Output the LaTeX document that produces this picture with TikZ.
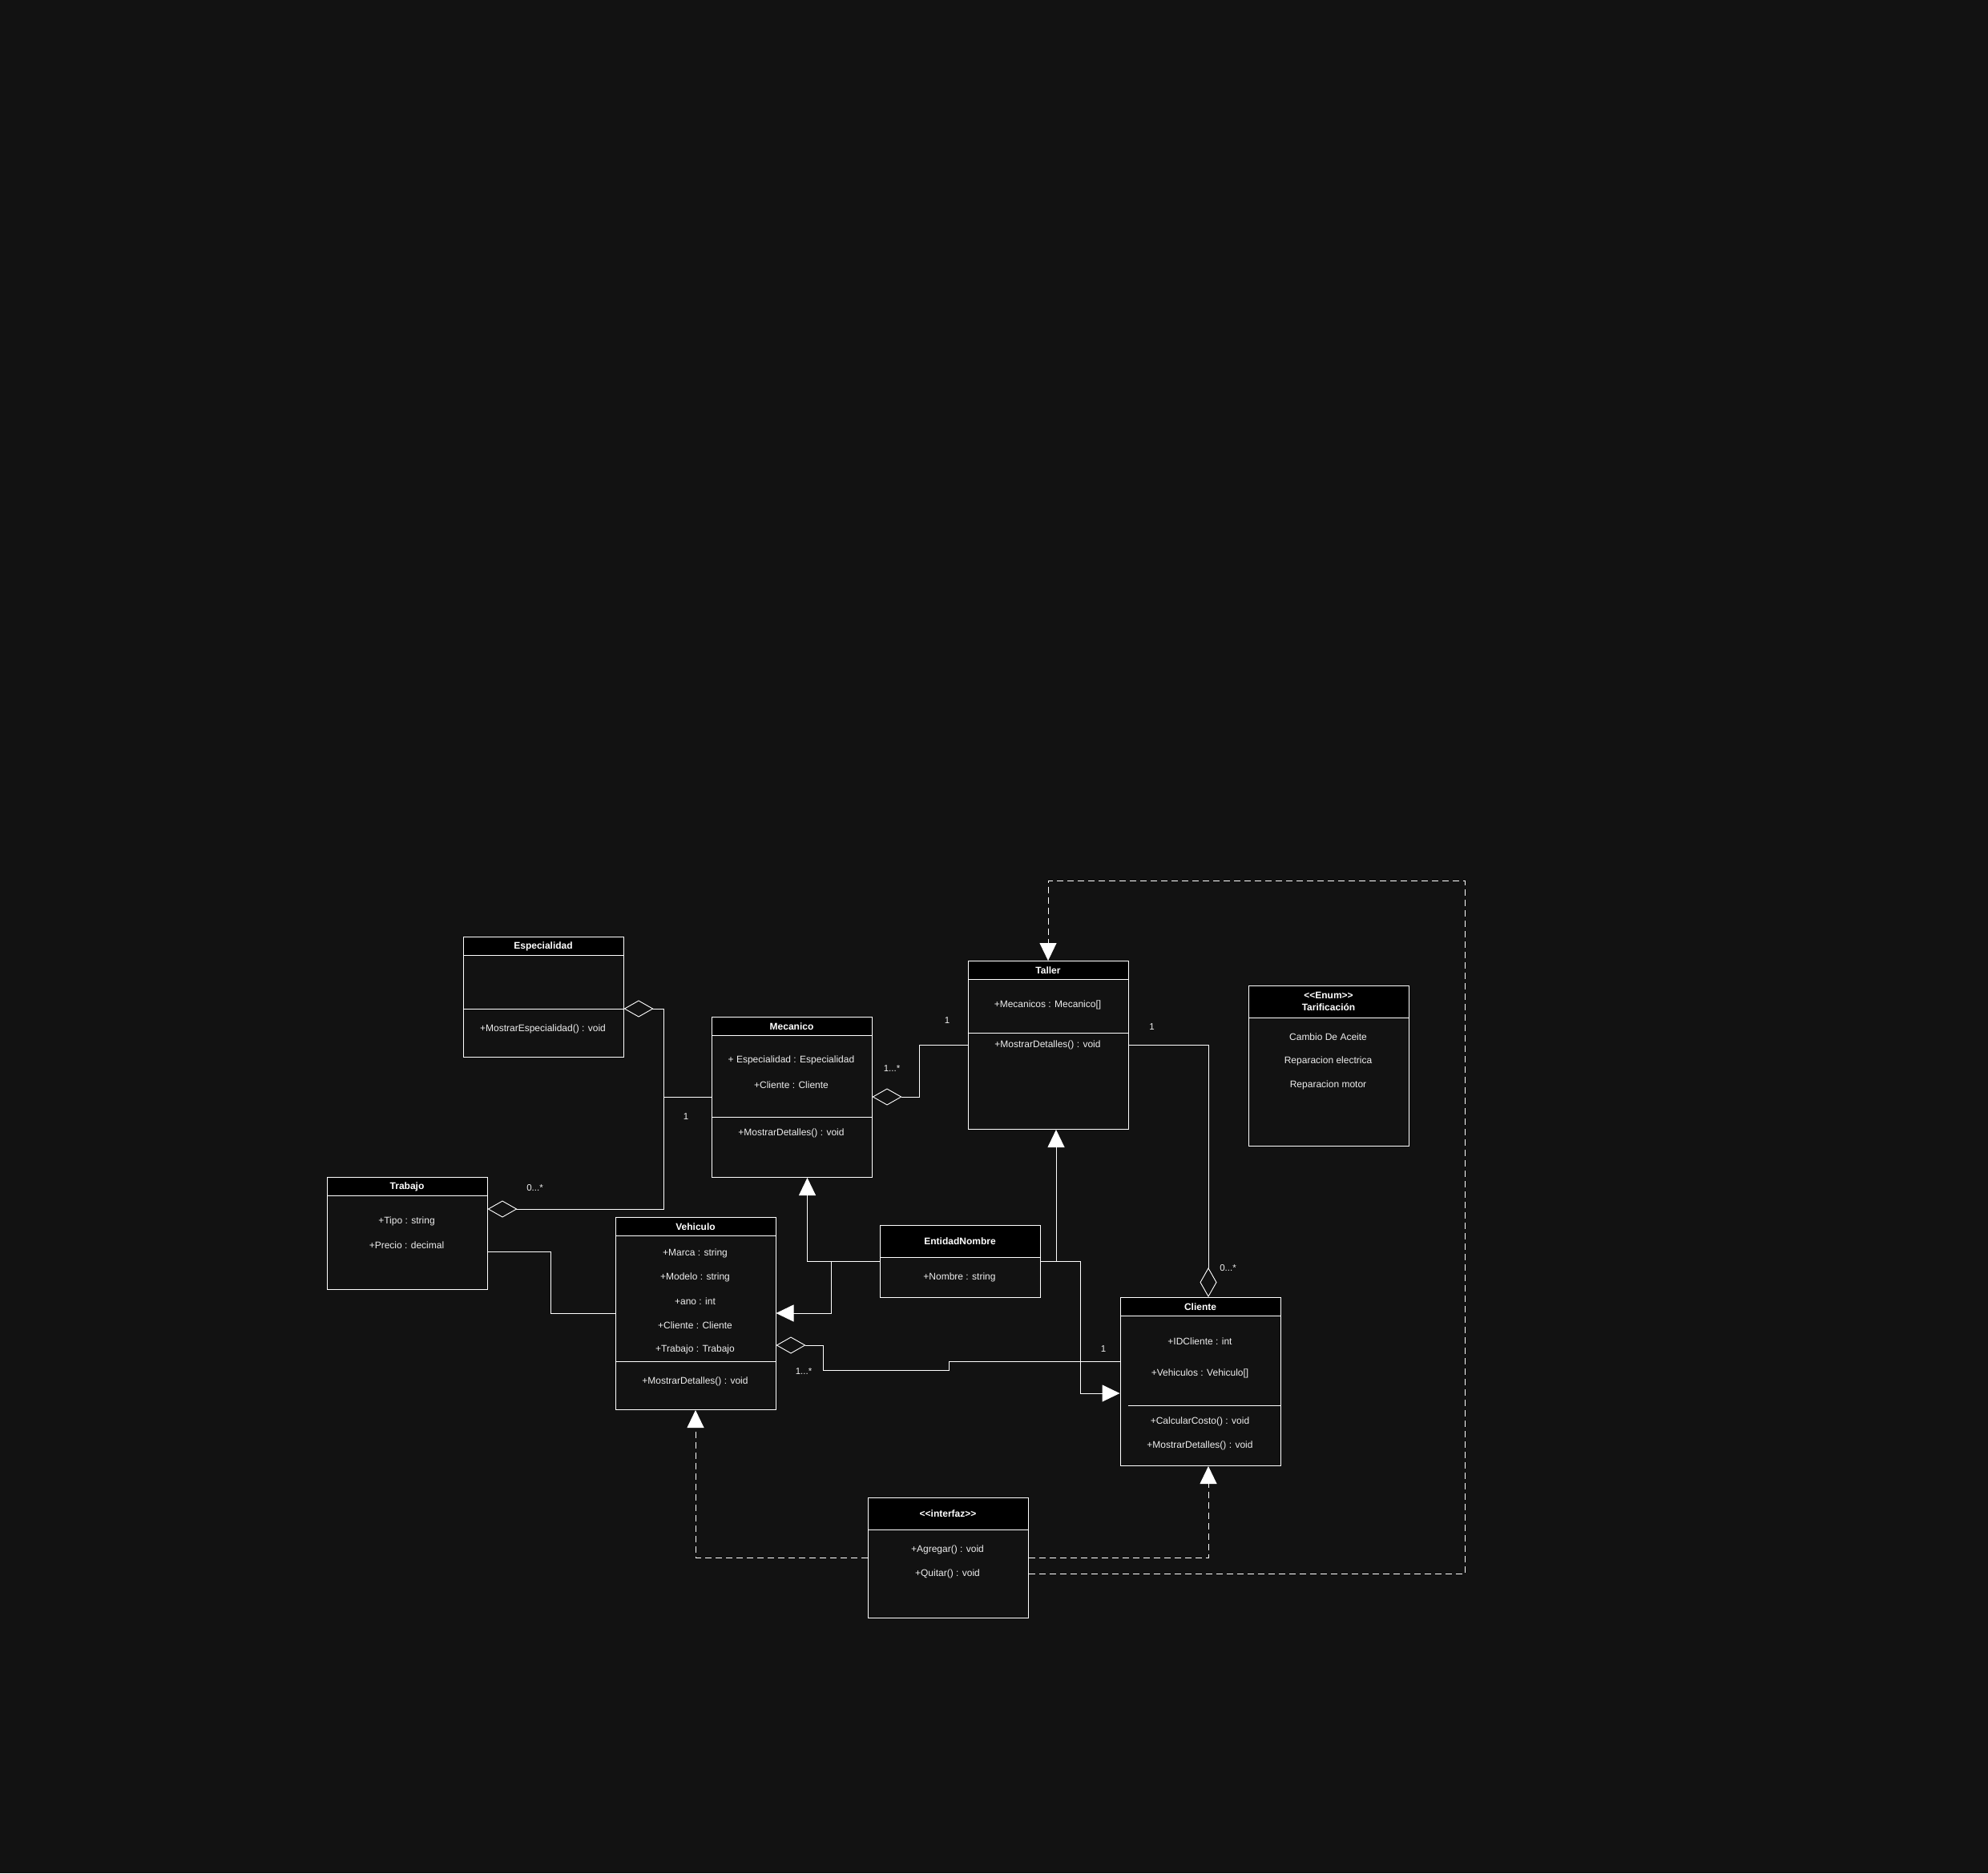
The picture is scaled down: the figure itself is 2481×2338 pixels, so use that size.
\documentclass[tikz,border=0pt]{standalone}
\usepackage{fontspec}
\setmainfont{Liberation Sans}[Ligatures=TeXOff]
\usetikzlibrary{arrows.meta}
\definecolor{bgcol}{HTML}{121212}
\definecolor{txtcol}{HTML}{EEEEEE}

\begin{document}
\begin{tikzpicture}[x=1pt, y=-1pt, white, line width=1pt,
    box/.style = {draw=white, anchor=north west, minimum width=200pt, inner sep=0pt},
    head/.style = {draw=white, fill=black, anchor=north, minimum width=200pt, inner sep=0pt, align=center, font=\fontsize{12}{15}\selectfont\bfseries},
    txt/.style = {text=txtcol, inner sep=0pt, font=\fontsize{12}{14}\selectfont},
    lbl/.style = {text=txtcol, inner sep=0pt, font=\fontsize{11.5}{13}\selectfont},
    inh/.style = {-{Triangle[length=22pt, width=21pt]}},
    real/.style = {inh, dash pattern=on 8pt off 5pt},
    aggr/.style = {{Diamond[length=37pt, width=21pt, fill=bgcol, line width=0.9pt]}-},
    aggrend/.style = {-{Diamond[length=37pt, width=21pt, fill=bgcol, line width=0.9pt]}}]
    \useasboundingbox (0,0) rectangle (2481,2338);
    \fill[bgcol] (0,0) rectangle (2481,2338);

    \node[box, minimum height=150pt] (esp) at (577.5,1169) {};
    \node[head, minimum height=23pt] (espHead) at (esp.north) {Especialidad};
    \node[txt] (espM1) at (677.5,1284) {+MostrarEspecialidad() : void};
    \draw (esp.west |- 0,1259) -- (esp.east |- 0,1259);

    \node[box, minimum height=200pt] (mec) at (887.5,1269) {};
    \node[head, minimum height=23pt] (mecHead) at (mec.north) {Mecanico};
    \node[txt] (mecA1) at (987.5,1323) {+ Especialidad : Especialidad};
    \node[txt] (mecA2) at (987.5,1354) {+Cliente : Cliente};
    \node[txt] (mecM1) at (987.5,1414) {+MostrarDetalles() : void};
    \draw (mec.west |- 0,1394) -- (mec.east |- 0,1394);

    \node[box, minimum height=210pt] (tal) at (1207.5,1199) {};
    \node[head, minimum height=23pt] (talHead) at (tal.north) {Taller};
    \node[txt] (talA1) at (1307.5,1254) {+Mecanicos : Mecanico[]};
    \node[txt] (talM1) at (1307.5,1304) {+MostrarDetalles() : void};
    \draw (tal.west |- 0,1289) -- (tal.east |- 0,1289);

    \node[box, minimum height=200pt] (tar) at (1557.5,1229.5) {};
    \node[head, minimum height=40pt] (tarHead) at (tar.north) {<<Enum>>\\Tarificación};
    \node[txt] (tarV1) at (1657.5,1294) {Cambio De Aceite};
    \node[txt] (tarV2) at (1657.5,1324) {Reparacion electrica};
    \node[txt] (tarV3) at (1657.5,1354) {Reparacion motor};

    \node[box, minimum height=140pt] (trab) at (407.5,1469) {};
    \node[head, minimum height=23pt] (trabHead) at (trab.north) {Trabajo};
    \node[txt] (trabA1) at (507.5,1524) {+Tipo : string};
    \node[txt] (trabA2) at (507.5,1554) {+Precio : decimal};

    \node[box, minimum height=240pt] (veh) at (767.5,1519) {};
    \node[head, minimum height=23pt] (vehHead) at (veh.north) {Vehiculo};
    \node[txt] (vehA1) at (867.5,1564) {+Marca : string};
    \node[txt] (vehA2) at (867.5,1594) {+Modelo : string};
    \node[txt] (vehA3) at (867.5,1624) {+ano : int};
    \node[txt] (vehA4) at (867.5,1654) {+Cliente : Cliente};
    \node[txt] (vehA5) at (867.5,1684) {+Trabajo : Trabajo};
    \node[txt] (vehM1) at (867.5,1724) {+MostrarDetalles() : void};
    \draw (veh.west |- 0,1699) -- (veh.east |- 0,1699);

    \node[box, minimum height=90pt] (ent) at (1097.5,1529) {};
    \node[head, minimum height=40pt] (entHead) at (ent.north) {EntidadNombre};
    \node[txt] (entA1) at (1197.5,1594) {+Nombre : string};

    \node[box, minimum height=210pt] (cli) at (1397.5,1619) {};
    \node[head, minimum height=23pt] (cliHead) at (cli.north) {Cliente};
    \node[txt] (cliA1) at (1497.5,1674) {+IDCliente : int};
    \node[txt] (cliA2) at (1497.5,1714) {+Vehiculos : Vehiculo[]};
    \node[txt] (cliM1) at (1497.5,1774) {+CalcularCosto() : void};
    \node[txt] (cliM2) at (1497.5,1804) {+MostrarDetalles() : void};
    \draw (1407.5,1754) -- (cli.east |- 0,1754);

    \node[box, minimum height=150pt] (intf) at (1082.5,1869) {};
    \node[head, minimum height=40pt] (intfHead) at (intf.north) {<<interfaz>>};
    \node[txt] (intfM1) at (1182.5,1934) {+Agregar() : void};
    \node[txt] (intfM2) at (1182.5,1964) {+Quitar() : void};

    \draw[aggr] (esp.east |- 0,1259) -- (828,1259) |- (mec.west |- 0,1369);
    \draw[aggr] (trab.east |- 0,1509) -| (828,1369) -- (mec.west |- 0,1369);
    \draw[aggr] (mec.east |- 0,1369) -- (1147,1369) |- (tal.west |- 0,1304);
    \draw[aggrend] (tal.east |- 0,1304.5) -| (cli.north -| 1508,0);
    \draw[aggr] (veh.east |- 0,1679) -- (1027,1679) |- (1184,1710) |- (cli.west |- 0,1699);
    \draw (trab.east |- 0,1562) -| (687.5,1639) -- (veh.west |- 0,1639);
    \draw[inh] (ent.west |- 0,1574) -| (mec.south -| 1007.5,0);
    \draw[inh] (ent.west |- 0,1574) -- (1037,1574) |- (veh.east |- 0,1639);
    \draw[inh] (ent.east |- 0,1574) -| (tal.south -| 1318,0);
    \draw[inh] (ent.east |- 0,1574) -| (1348,1739) -- (cli.west |- 0,1739);
    \draw[real] (intf.west |- 0,1944) -| (veh.south);
    \draw[real] (intf.east |- 0,1944) -| (cli.south -| 1508,0);
    \draw[real] (intf.east |- 0,1964) -| (1828,1099) -| (tal.north);

    \node[lbl] (l1) at (856,1394) {1};
    \node[lbl] (l2) at (667.5,1483) {0...*};
    \node[lbl] (l3) at (1113,1334) {1...*};
    \node[lbl] (l4) at (1182,1274) {1};
    \node[lbl] (l5) at (1437.5,1282) {1};
    \node[lbl] (l6) at (1532.5,1583) {0...*};
    \node[lbl] (l7) at (1003,1712) {1...*};
    \node[lbl] (l8) at (1377,1684) {1};
  \end{tikzpicture}
\end{document}
